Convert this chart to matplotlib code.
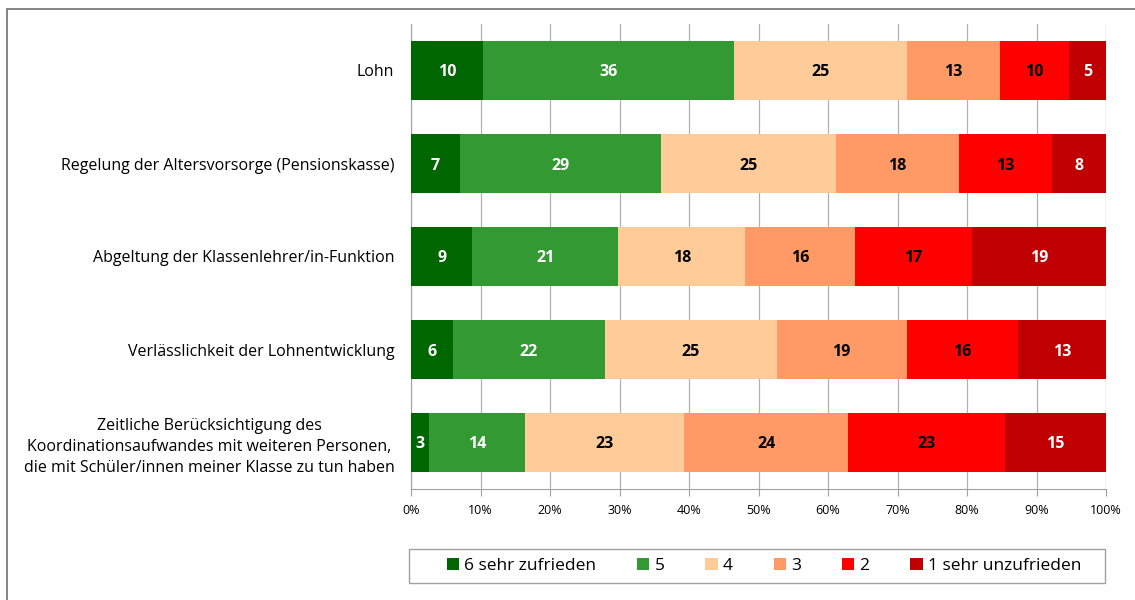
import numpy as np
import matplotlib
matplotlib.use('Agg')
import matplotlib.pyplot as plt
from matplotlib.patches import Rectangle

plt.rcParams['font.family'] = ['Open Sans', 'DejaVu Sans']

# Kategorien (von oben nach unten)
categories = [
    'Lohn',
    'Regelung der Altersvorsorge (Pensionskasse)',
    'Abgeltung der Klassenlehrer/in-Funktion',
    'Verlässlichkeit der Lohnentwicklung',
    'Zeitliche Berücksichtigung des\nKoordinationsaufwandes mit weiteren Personen,\n'
    'die mit Schüler/innen meiner Klasse zu tun haben',
]

series_names = ['6 sehr zufrieden', '5', '4', '3', '2', '1 sehr unzufrieden']
colors = ['#006600', '#339933', '#FFCC99', '#FF9966', '#FF0000', '#C00000']
label_colors = ['white', 'white', 'black', 'black', 'black', 'white']

# Anteile in Prozent (je Kategorie), Reihenfolge wie series_names
s6 = [10.4, 7.0, 8.8, 6.0, 2.6]
s5 = [36.0, 28.9, 21.0, 21.9, 13.9]
s4 = [24.9, 25.3, 18.3, 24.7, 22.9]
s3 = [13.4, 17.6, 15.8, 18.7, 23.6]
s2 = [9.9, 13.4, 16.8, 16.0, 22.6]
s1 = [5.3, 7.8, 19.3, 12.7, 14.6]

xticks = np.arange(0, 101, 10)
xticklabels = [f'{v}%' for v in xticks]

data = np.array([s6, s5, s4, s3, s2, s1])
shares = data / data.sum(axis=0) * 100

fig = plt.figure(figsize=(11.35, 6), dpi=100)
ax = fig.add_axes([411 / 1135, 1 - 489 / 600, 695 / 1135, 465 / 600])

# Rahmen um die ganze Grafik (rechts/unten abgeschnitten)
fig.patches.append(Rectangle((7 / 1135, -0.1), 2, 1.1 - 9 / 600,
                             transform=fig.transFigure, fill=False,
                             edgecolor='#707070', linewidth=1.2))

y = np.arange(len(categories))
left = np.zeros(len(categories))
for i, name in enumerate(series_names):
    vals = shares[i]
    ax.barh(y, vals, left=left, height=0.645, color=colors[i],
            label=name, zorder=3)
    for j, v in enumerate(vals):
        ax.text(left[j] + v / 2, y[j], f'{round(data[i][j])}',
                ha='center', va='center_baseline', fontsize=11.5,
                fontweight='bold', color=label_colors[i], zorder=4)
    left += vals

ax.set_xlim(0, 100)
ax.set_ylim(len(categories) - 0.5, -0.5)
ax.set_xticks(xticks)
ax.set_xticklabels(xticklabels, fontsize=9)
ax.set_yticks(y)
ax.set_yticklabels(categories, fontsize=11.5, multialignment='center',
                   linespacing=1.4)
ax.tick_params(axis='y', length=0, pad=12)
ax.tick_params(axis='x', length=5, color='#a0a0a0', pad=6)

ax.grid(axis='x', color='#b0b0b0', linewidth=0.9, zorder=0)
for s in ['top', 'right']:
    ax.spines[s].set_visible(False)
for s in ['left', 'bottom']:
    ax.spines[s].set_color('#a0a0a0')

# Legende mit eigenem Rahmen
fig.patches.append(Rectangle((409 / 1135, 1 - 583 / 600), 696 / 1135, 34 / 600,
                             transform=fig.transFigure, fill=False,
                             edgecolor='#a0a0a0', linewidth=1.0))
leg = fig.legend(loc='center', bbox_to_anchor=(764 / 1135, 1 - 566 / 600),
                 ncol=6, fontsize=12.5, frameon=False,
                 handlelength=0.7, handleheight=0.7,
                 handletextpad=0.3, columnspacing=2.36)

fig.savefig('out.png', dpi=100)
